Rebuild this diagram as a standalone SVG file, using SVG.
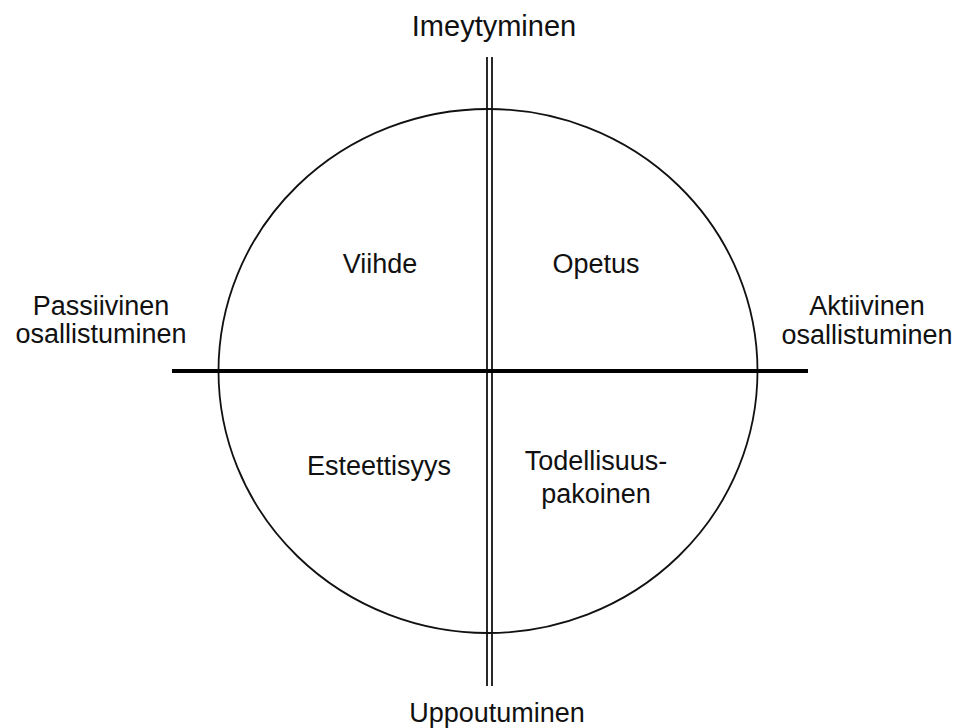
<svg xmlns="http://www.w3.org/2000/svg" width="968" height="728" viewBox="0 0 968 728">
<style>
text{font-family:"Liberation Sans",Arial,sans-serif;font-size:27px;fill:#111;text-anchor:middle}
.thin{stroke:#111;stroke-width:1.8;fill:none}
</style>
<rect width="968" height="728" fill="#fff"/>
<g id="connectors">
<ellipse class="thin" cx="488" cy="371" rx="269.5" ry="262"/>
<line class="thin" x1="487" y1="57" x2="487" y2="686"/>
<line class="thin" x1="492" y1="57" x2="492" y2="686"/>
<line x1="172" y1="371" x2="808" y2="371" stroke="#000" stroke-width="4"/>
</g>
<g id="imeytyminen"><text x="494" y="36" style="font-size:29px">Imeytyminen</text></g>
<g id="uppoutuminen"><text x="497" y="722">Uppoutuminen</text></g>
<g id="passiivinen"><text x="101" y="315">Passiivinen</text><text x="101" y="343">osallistuminen</text></g>
<g id="aktiivinen"><text x="867" y="315">Aktiivinen</text><text x="867" y="344">osallistuminen</text></g>
<g id="viihde"><text x="380" y="273">Viihde</text></g>
<g id="opetus"><text x="596" y="273">Opetus</text></g>
<g id="esteettisyys"><text x="379" y="475">Esteettisyys</text></g>
<g id="todellisuuspakoinen"><text x="596" y="470">Todellisuus-</text><text x="596" y="503">pakoinen</text></g>
</svg>
